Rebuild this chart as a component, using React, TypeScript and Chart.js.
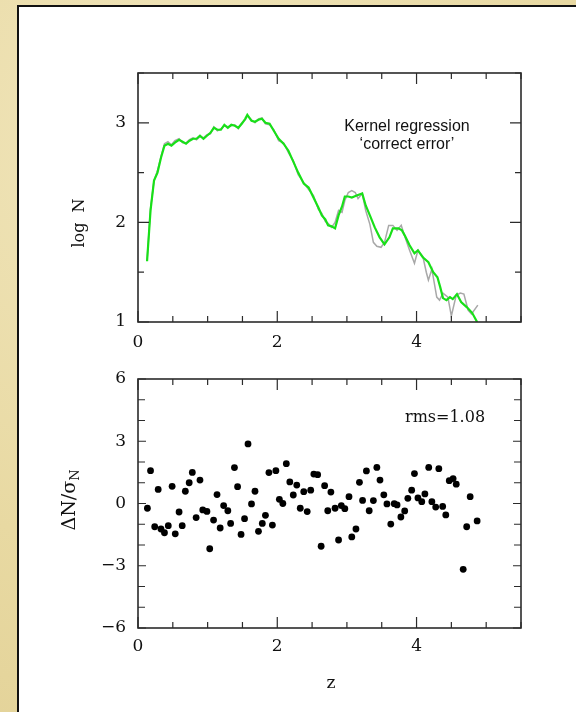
import React, { useEffect, useRef } from 'react';
import { Chart, registerables } from 'chart.js';
Chart.register(...registerables);

// ---- Top panel: kernel regression (green) and data (gray), log N vs z ----
const KERNEL_Z = [0.13,0.18,0.23,0.28,0.33,0.38,0.43,0.48,0.53,0.59,0.64,0.69,0.74,0.79,0.84,0.89,0.94,0.99,1.04,1.09,1.14,1.19,1.24,1.29,1.34,1.39,1.44,1.49,1.54,1.57,1.63,1.68,1.73,1.78,1.83,1.89,1.95,2.02,2.09,2.16,2.23,2.30,2.38,2.45,2.52,2.59,2.64,2.69,2.73,2.78,2.83,2.88,2.93,2.97,3.02,3.07,3.14,3.22,3.27,3.33,3.40,3.47,3.54,3.61,3.66,3.74,3.79,3.83,3.90,3.97,4.02,4.09,4.17,4.24,4.30,4.34,4.38,4.43,4.48,4.52,4.58,4.64,4.72,4.76,4.80,4.87];
const KERNEL_LOGN = [1.61,2.12,2.42,2.50,2.65,2.77,2.79,2.77,2.80,2.83,2.81,2.79,2.82,2.84,2.84,2.87,2.84,2.87,2.90,2.95,2.93,2.93,2.98,2.95,2.98,2.97,2.95,2.99,3.04,3.08,3.02,3.01,3.03,3.04,3.00,2.99,2.92,2.84,2.79,2.72,2.61,2.50,2.39,2.35,2.25,2.15,2.07,2.03,1.97,1.96,1.94,2.07,2.16,2.26,2.26,2.25,2.27,2.29,2.17,2.07,1.95,1.85,1.78,1.85,1.94,1.94,1.92,1.87,1.77,1.69,1.72,1.65,1.60,1.50,1.45,1.35,1.24,1.22,1.25,1.23,1.28,1.20,1.15,1.12,1.09,1.00];

const DATA_Z = [0.13,0.18,0.23,0.28,0.33,0.38,0.43,0.48,0.53,0.59,0.64,0.69,0.74,0.79,0.84,0.89,0.94,0.99,1.04,1.09,1.14,1.19,1.24,1.29,1.34,1.39,1.44,1.49,1.54,1.57,1.63,1.68,1.73,1.78,1.83,1.89,1.95,2.02,2.09,2.16,2.23,2.30,2.38,2.45,2.52,2.59,2.64,2.69,2.73,2.78,2.83,2.88,2.93,2.97,3.02,3.07,3.12,3.16,3.22,3.27,3.33,3.38,3.43,3.49,3.54,3.60,3.66,3.72,3.78,3.83,3.90,3.97,4.02,4.09,4.14,4.17,4.22,4.29,4.33,4.38,4.45,4.50,4.57,4.63,4.68,4.74,4.79,4.88];
const DATA_LOGN = [1.62,2.14,2.42,2.52,2.66,2.79,2.81,2.78,2.82,2.84,2.80,2.80,2.83,2.85,2.83,2.86,2.85,2.88,2.89,2.96,2.92,2.94,2.97,2.96,2.97,2.98,2.94,3.00,3.03,3.07,3.03,3.00,3.04,3.05,2.99,2.98,2.93,2.82,2.80,2.70,2.62,2.48,2.40,2.33,2.27,2.13,2.09,2.01,1.99,1.95,2.00,2.12,2.10,2.22,2.30,2.32,2.30,2.24,2.29,2.12,1.98,1.80,1.76,1.75,1.80,1.97,1.97,1.92,1.97,1.86,1.72,1.59,1.72,1.66,1.50,1.42,1.53,1.25,1.22,1.29,1.25,1.06,1.27,1.29,1.28,1.12,1.08,1.17];

// ---- Bottom panel: residuals ΔN/σN vs z ----
const RESID_Z = [0.135,0.18,0.24,0.29,0.33,0.38,0.435,0.49,0.535,0.59,0.635,0.68,0.735,0.78,0.835,0.89,0.93,0.99,1.03,1.085,1.135,1.18,1.23,1.29,1.33,1.385,1.43,1.48,1.53,1.58,1.63,1.68,1.73,1.785,1.83,1.88,1.93,1.98,2.03,2.08,2.13,2.18,2.23,2.28,2.33,2.38,2.43,2.48,2.525,2.58,2.63,2.68,2.725,2.77,2.83,2.88,2.92,2.97,3.03,3.07,3.13,3.18,3.225,3.28,3.32,3.38,3.43,3.475,3.53,3.575,3.63,3.68,3.72,3.775,3.83,3.875,3.93,3.97,4.02,4.075,4.12,4.175,4.22,4.275,4.32,4.375,4.42,4.47,4.525,4.57,4.67,4.72,4.77,4.87];
const RESID_V = [-0.23,1.58,-1.12,0.68,-1.23,-1.41,-1.07,0.83,-1.46,-0.41,-1.07,0.59,1.0,1.5,-0.68,1.13,-0.31,-0.38,-2.18,-0.8,0.43,-1.18,-0.1,-0.35,-0.96,1.73,0.81,-1.49,-0.73,2.87,-0.02,0.59,-1.34,-0.96,-0.57,1.49,-1.04,1.58,0.2,0.0,1.92,1.04,0.41,0.89,-0.23,0.57,-0.39,0.64,1.42,1.39,-2.06,0.86,-0.35,0.55,-0.23,-1.76,-0.1,-0.25,0.33,-1.61,-1.23,1.02,0.15,1.57,-0.35,0.14,1.74,1.13,0.42,-0.02,-0.99,-0.01,-0.07,-0.65,-0.36,0.25,0.64,1.44,0.27,0.09,0.46,1.74,0.09,-0.17,1.68,-0.14,-0.55,1.1,1.2,0.93,-3.17,-1.12,0.33,-0.84];

const X_RANGE = [0, 5.5];
const X_LABEL_TICKS = [0, 2, 4];
const TOP_Y_RANGE = [1, 3.5];
const TOP_Y_LABEL_TICKS = [1, 2, 3];
const BOT_Y_RANGE = [-6, 6];
const BOT_Y_LABEL_TICKS = [-6, -3, 0, 3, 6];

const SERIF = '"DejaVu Serif", "Liberation Serif", serif';
const SANS = '"Liberation Sans", Arial, sans-serif';

const fmt = (v: number) => (v < 0 ? '\u2212' + Math.abs(v) : String(v));

function isMultiple(v: number, step: number) {
  const r = v / step;
  return Math.abs(r - Math.round(r)) < 1e-6;
}

// frame + inward ticks on all four sides
const framePlugin = {
  id: 'frameTicks',
  afterDatasetsDraw(chart: any, _args: any, opts: any) {
    const { ctx, chartArea: a, scales } = chart;
    const xs = scales.x, ys = scales.y;
    ctx.save();
    ctx.strokeStyle = '#2b2b2b';
    ctx.lineWidth = 1.2;
    ctx.beginPath();
    for (let v = xs.min; v <= xs.max + 1e-9; v += opts.xMinor) {
      const px = xs.getPixelForValue(v);
      const len = isMultiple(v, opts.xMajor) ? 11 : 6;
      ctx.moveTo(px, a.bottom); ctx.lineTo(px, a.bottom - len);
      ctx.moveTo(px, a.top); ctx.lineTo(px, a.top + len);
    }
    for (let v = ys.min; v <= ys.max + 1e-9; v += opts.yMinor) {
      const py = ys.getPixelForValue(v);
      const len = isMultiple(v, opts.yMajor) ? opts.yMajorLen : opts.yMinorLen;
      ctx.moveTo(a.left, py); ctx.lineTo(a.left + len, py);
      ctx.moveTo(a.right, py); ctx.lineTo(a.right - len, py);
    }
    ctx.stroke();
    ctx.lineWidth = 1.6;
    ctx.strokeRect(a.left, a.top, a.right - a.left, a.bottom - a.top);
    ctx.restore();
  },
};

function xScale(pad: number) {
  return {
    type: 'linear',
    min: X_RANGE[0],
    max: X_RANGE[1],
    afterBuildTicks: (s: any) => { s.ticks = X_LABEL_TICKS.map((v) => ({ value: v })); },
    afterFit: (s: any) => { s.height = 34; },
    grid: { display: false, drawTicks: false },
    border: { display: false },
    ticks: { color: '#111', font: { family: SERIF, size: 17 }, padding: pad, maxRotation: 0, callback: (v: any) => fmt(Number(v)) },
  };
}

function yScale(range: number[], ticks: number[]) {
  return {
    type: 'linear',
    min: range[0],
    max: range[1],
    afterBuildTicks: (s: any) => { s.ticks = ticks.map((v) => ({ value: v })); },
    afterFit: (s: any) => { s.width = 138; },
    grid: { display: false, drawTicks: false },
    border: { display: false },
    ticks: { color: '#111', font: { family: SERIF, size: 17 }, padding: 12, callback: (v: any) => fmt(Number(v)) },
  };
}

function TopChart() {
  const ref = useRef<HTMLCanvasElement>(null);
  useEffect(() => {
    const textPlugin = {
      id: 'topText',
      afterDraw(chart: any) {
        const ctx = chart.ctx;
        ctx.save();
        ctx.fillStyle = '#111';
        ctx.font = `16px ${SANS}`;
        ctx.textAlign = 'center';
        ctx.textBaseline = 'alphabetic';
        ctx.fillText('Kernel regression', 407, 131);
        ctx.fillText('\u2018correct error\u2019', 407, 149);
        ctx.translate(80, 223);
        ctx.rotate(-Math.PI / 2);
        ctx.font = `16px ${SERIF}`;
        ctx.textBaseline = 'middle';
        ctx.fillText('log  N', 0, 0);
        ctx.restore();
      },
    };
    const chart = new Chart(ref.current as HTMLCanvasElement, {
      type: 'line',
      data: {
        datasets: [
          {
            label: 'Kernel regression',
            data: KERNEL_Z.map((z, i) => ({ x: z, y: KERNEL_LOGN[i] })),
            borderColor: '#18e018',
            borderWidth: 2.2,
            pointRadius: 0,
            tension: 0,
            fill: false,
          },
          {
            label: 'Data',
            data: DATA_Z.map((z, i) => ({ x: z, y: DATA_LOGN[i] })),
            borderColor: '#a8a8a8',
            borderWidth: 1.5,
            pointRadius: 0,
            tension: 0,
            fill: false,
          },
        ],
      },
      options: {
        responsive: false,
        animation: false,
        layout: { padding: { left: 0, right: 55, top: 73, bottom: 0 } },
        scales: { x: xScale(10) as any, y: yScale(TOP_Y_RANGE, TOP_Y_LABEL_TICKS) as any },
        plugins: {
          legend: { display: false },
          tooltip: { enabled: false },
          frameTicks: { xMinor: 0.5, xMajor: 2, yMinor: 0.5, yMajor: 1, yMajorLen: 11, yMinorLen: 6 },
        } as any,
      },
      plugins: [framePlugin, textPlugin],
    });
    return () => chart.destroy();
  }, []);
  return <canvas ref={ref} width={576} height={356} style={{ position: 'absolute', left: 0, top: 0, width: 576, height: 356 }} />;
}

function BottomChart() {
  const ref = useRef<HTMLCanvasElement>(null);
  useEffect(() => {
    const textPlugin = {
      id: 'botText',
      afterDraw(chart: any) {
        const ctx = chart.ctx;
        ctx.save();
        ctx.fillStyle = '#111';
        ctx.font = `16px ${SERIF}`;
        ctx.textAlign = 'left';
        ctx.textBaseline = 'alphabetic';
        ctx.fillText('rms=1.08', 405, 66);
        ctx.font = `17px ${SERIF}`;
        ctx.textAlign = 'center';
        ctx.textBaseline = 'middle';
        ctx.fillText('z', 331, 328);
        // rotated ΔN/σN with subscript
        ctx.translate(68, 144);
        ctx.rotate(-Math.PI / 2);
        ctx.textAlign = 'left';
        ctx.textBaseline = 'alphabetic';
        const main = '\u0394N/\u03C3';
        ctx.font = `19px ${SERIF}`;
        const wMain = ctx.measureText(main).width;
        ctx.font = `13px ${SERIF}`;
        const wSub = ctx.measureText('N').width;
        const total = wMain + wSub;
        ctx.font = `19px ${SERIF}`;
        ctx.fillText(main, -total / 2, 7);
        ctx.font = `13px ${SERIF}`;
        ctx.fillText('N', -total / 2 + wMain, 11);
        ctx.restore();
      },
    };
    const chart = new Chart(ref.current as HTMLCanvasElement, {
      type: 'scatter',
      data: {
        datasets: [
          {
            label: 'residuals',
            data: RESID_Z.map((z, i) => ({ x: z, y: RESID_V[i] })),
            backgroundColor: '#000',
            borderColor: '#000',
            pointRadius: 3.4,
            borderWidth: 0,
          },
        ],
      },
      options: {
        responsive: false,
        animation: false,
        layout: { padding: { left: 0, right: 55, top: 23, bottom: 50 } },
        scales: { x: xScale(8) as any, y: yScale(BOT_Y_RANGE, BOT_Y_LABEL_TICKS) as any },
        plugins: {
          legend: { display: false },
          tooltip: { enabled: false },
          frameTicks: { xMinor: 0.5, xMajor: 2, yMinor: 1, yMajor: 3, yMajorLen: 8, yMinorLen: 7 },
        } as any,
      },
      plugins: [framePlugin, textPlugin],
    });
    return () => chart.destroy();
  }, []);
  return <canvas ref={ref} width={576} height={356} style={{ position: 'absolute', left: 0, top: 356, width: 576, height: 356 }} />;
}

export default function App() {
  return (
    <div
      style={{
        position: 'absolute',
        left: 0,
        top: 0,
        width: 576,
        height: 712,
        overflow: 'hidden',
        background: 'radial-gradient(circle at 30% 20%, #f1e6bd 0%, #e8d9a2 60%, #e2d196 100%)',
      }}
    >
      <div
        style={{
          position: 'absolute',
          left: 17,
          top: 5,
          width: 620,
          height: 740,
          background: '#fff',
          borderLeft: '2px solid #111',
          borderTop: '2px solid #111',
        }}
      />
      <TopChart />
      <BottomChart />
    </div>
  );
}
